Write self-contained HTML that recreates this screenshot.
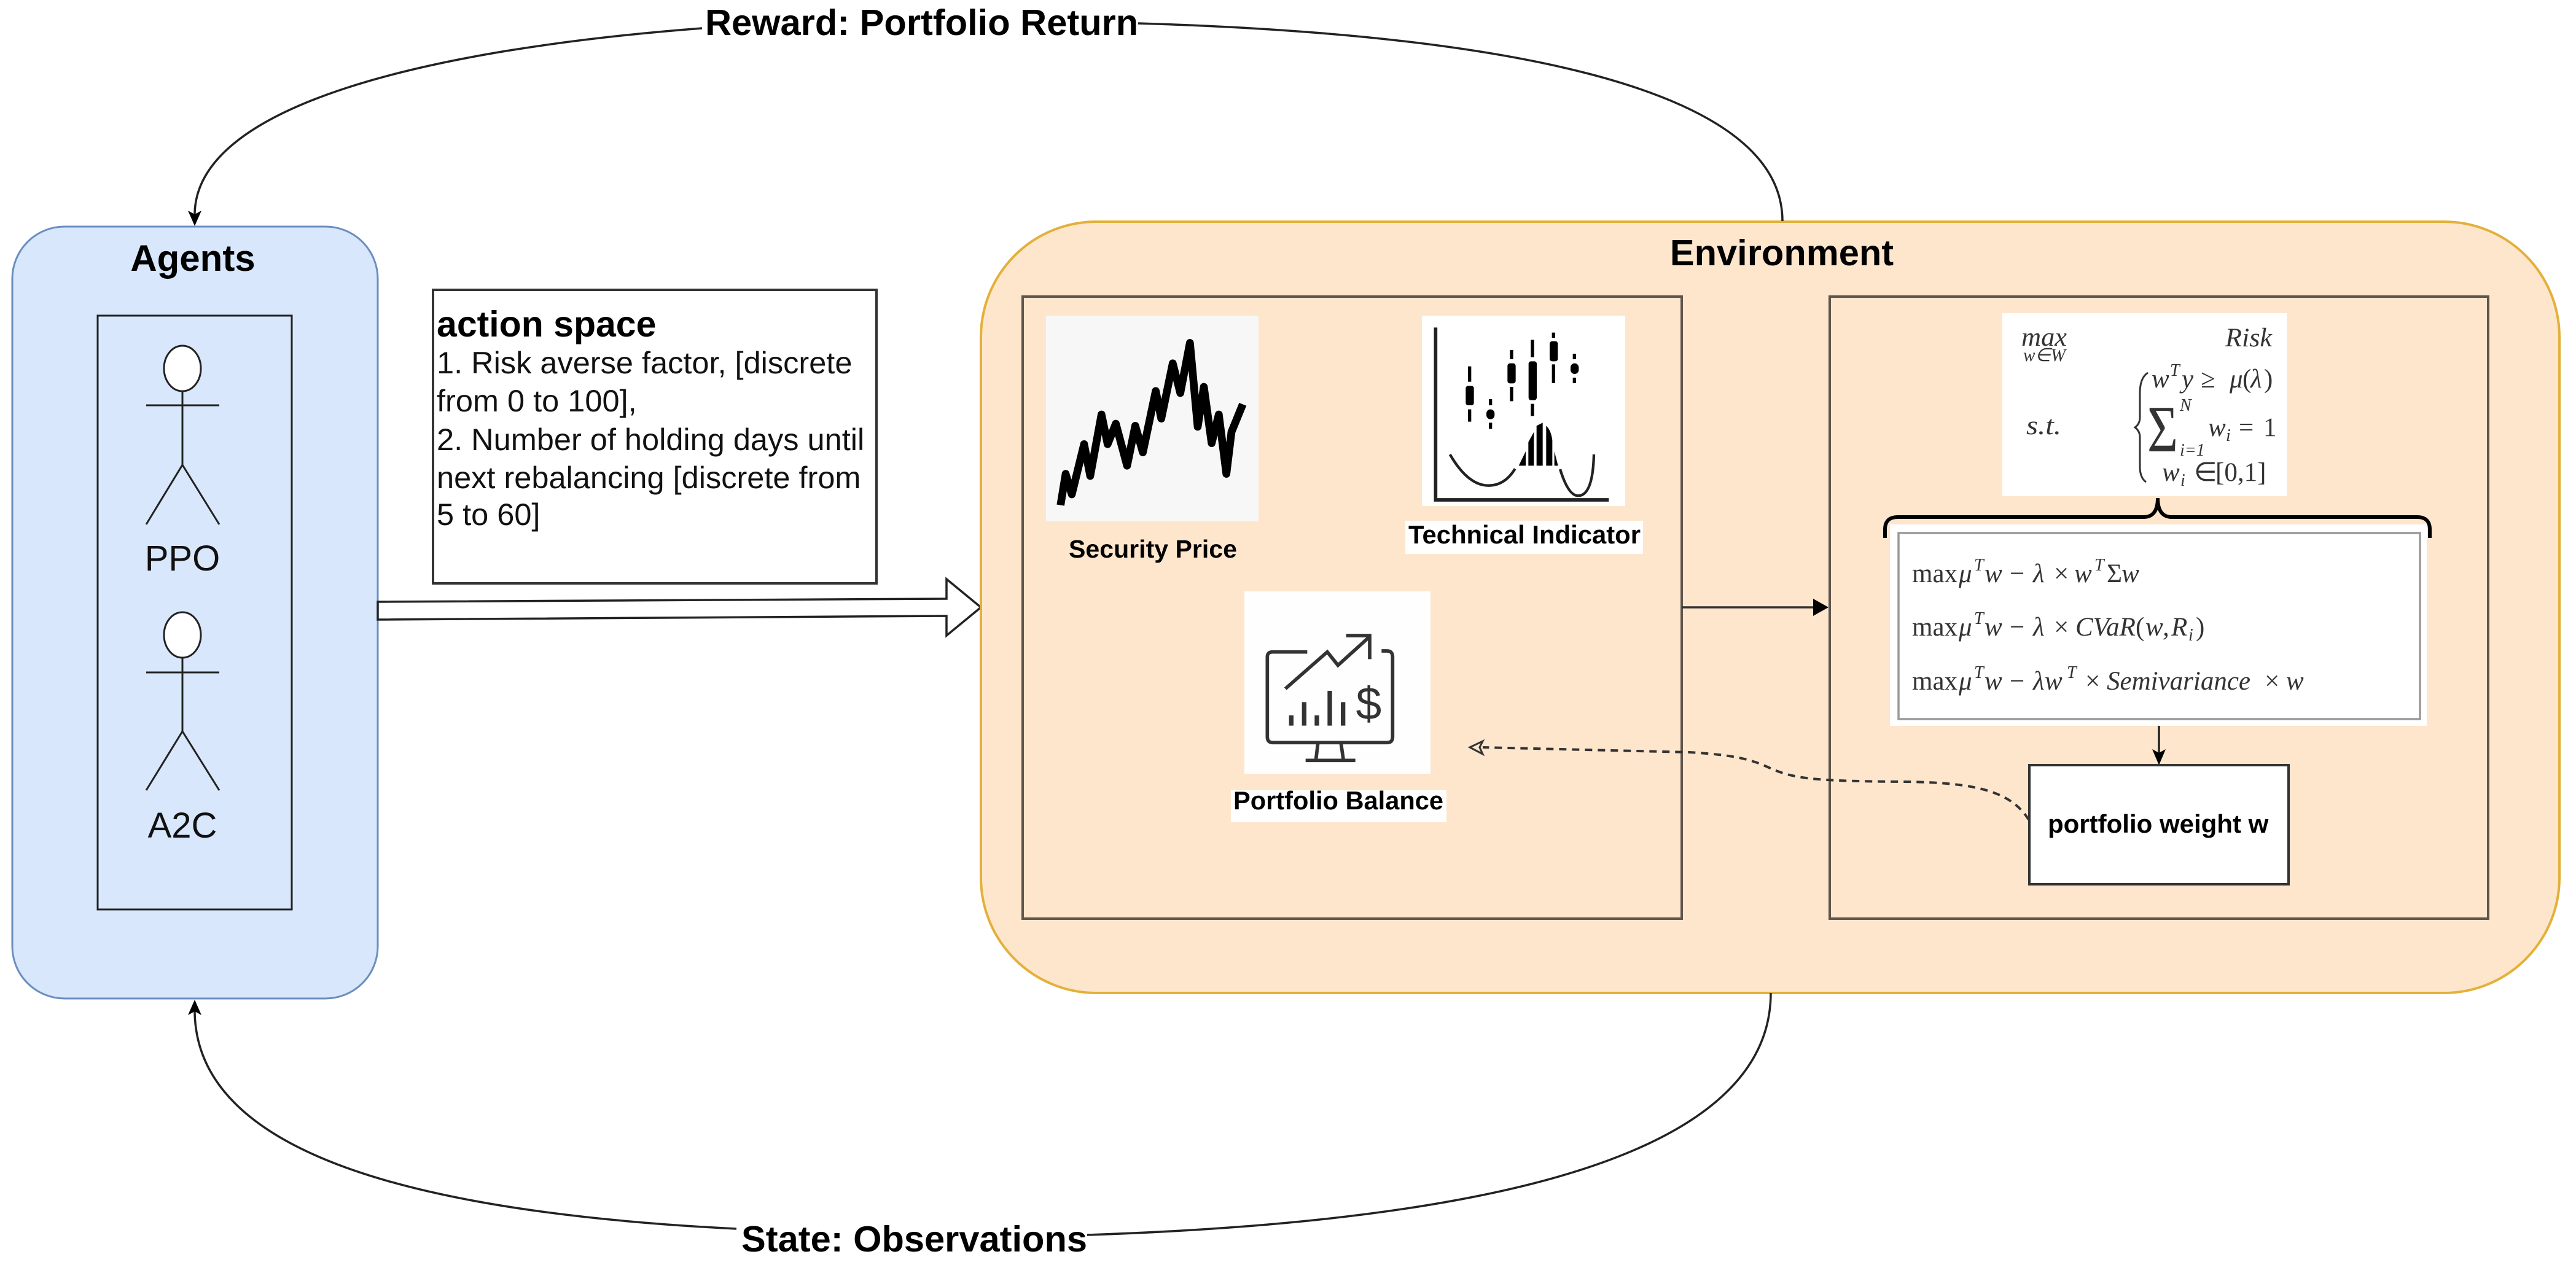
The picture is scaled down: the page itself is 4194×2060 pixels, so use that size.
<!DOCTYPE html>
<html><head><meta charset="utf-8"><style>
html,body{margin:0;padding:0;background:#fff;width:4194px;height:2060px;overflow:hidden}
svg{display:block}
.s{font-family:"Liberation Sans",sans-serif}
.b{font-family:"Liberation Sans",sans-serif;font-weight:bold;fill:#000}
.m{font-family:"Liberation Serif",serif;font-style:italic;fill:#333;font-size:43px}
.r{font-style:normal}
</style></head><body>
<svg width="4194" height="2060" viewBox="0 0 4194 2060" xmlns="http://www.w3.org/2000/svg">
<rect width="4194" height="2060" fill="#fff"/>

<!-- Agents -->
<rect x="20" y="369" width="595" height="1257" rx="85" ry="85" fill="#d8e7fb" stroke="#6c8ebf" stroke-width="3"/>
<text x="314" y="441" class="b" font-size="60" text-anchor="middle">Agents</text>
<rect x="159" y="514" width="316" height="967" fill="none" stroke="#222" stroke-width="3"/>
<g fill="none" stroke="#222" stroke-width="3">
<ellipse cx="297" cy="600" rx="30" ry="37" fill="#fff"/>
<path d="M238 660H357M297 637V757M238 854L297 757L357 854"/>
<ellipse cx="297" cy="1034" rx="30" ry="37" fill="#fff"/>
<path d="M238 1095H357M297 1071V1191M238 1287L297 1191L357 1287"/>
</g>
<text x="297" y="929" class="s" font-size="58" text-anchor="middle" fill="#111">PPO</text>
<text x="297" y="1364" class="s" font-size="58" text-anchor="middle" fill="#111">A2C</text>

<!-- Action box -->
<rect x="705" y="472" width="722" height="478" fill="#fff" stroke="#333" stroke-width="4"/>
<text x="711" y="548" class="b" font-size="59">action space</text>
<g class="s" font-size="50.5" fill="#111">
<text x="711" y="608">1. Risk averse factor, [discrete</text>
<text x="711" y="670">from 0 to 100],</text>
<text x="711" y="733">2. Number of holding days until</text>
<text x="711" y="795">next rebalancing [discrete from</text>
<text x="711" y="855">5 to 60]</text>
</g>

<!-- Block arrow -->
<polygon points="615,980 1541,975 1541,943 1597,989 1541,1035 1541,1003 615,1009" fill="#fff" stroke="#222" stroke-width="3.5"/>

<!-- Environment -->
<rect x="1597" y="361" width="2570" height="1256" rx="188" ry="188" fill="#fee6cd" stroke="#e3b03a" stroke-width="4"/>
<text x="2901" y="432" class="b" font-size="59.6" text-anchor="middle">Environment</text>
<rect x="1665" y="483" width="1073" height="1013" fill="none" stroke="#5f554c" stroke-width="4"/>
<rect x="2979" y="483" width="1072" height="1013" fill="none" stroke="#5f554c" stroke-width="4"/>

<!-- Security price -->
<rect x="1703" y="514" width="346" height="335" fill="#f7f7f7"/>
<g transform="translate(1650,480) scale(.33333)">
<polyline fill="none" stroke="#000" stroke-width="38" stroke-linejoin="round" points="230,1028 255,875 285,975 345,730 375,885 430,585 460,730 500,630 555,835 595,640 632,770 695,470 722,605 778,335 815,480 862,235 900,645 930,450 968,725 1003,585 1040,875 1065,670 1120,535"/>
</g>
<text x="1740" y="908" class="b" font-size="41" textLength="274" lengthAdjust="spacingAndGlyphs">Security Price</text>

<!-- Technical indicator -->
<rect x="2315" y="514" width="331" height="310" fill="#fff"/>
<g transform="translate(2280,490) scale(.33333)">
<path d="M172 130V972H1018" fill="none" stroke="#222" stroke-width="17"/>
<g fill="none" stroke="#000" stroke-width="16">
<path d="M338 320V395M338 530V590M440 480V510M440 595V625M543 240V285M543 420V490M645 190V275M645 503V562M748 155V180M748 310V402M850 258V285M850 375V402"/>
</g>
<g fill="#000">
<rect x="319" y="415" width="40" height="95" rx="12"/>
<rect x="420" y="530" width="40" height="48" rx="20"/>
<rect x="523" y="305" width="40" height="98" rx="12"/>
<rect x="626" y="295" width="40" height="190" rx="12"/>
<rect x="729" y="197" width="40" height="98" rx="12"/>
<rect x="831" y="305" width="40" height="52" rx="20"/>
<path d="M578 805L612 735V805ZM625 805V690L652 640V805ZM665 805V610L695 595V805ZM712 805V610Q735 630 742 680V805ZM752 735L770 805H752Z"/>
</g>
<path d="M242 750Q330 902 430 902Q510 902 560 820M780 822Q820 952 868 952Q940 952 945 750" fill="none" stroke="#222" stroke-width="13"/>
</g>
<rect x="2288" y="848" width="387" height="54" fill="#fff"/>
<text x="2293" y="885" class="b" font-size="41.5" textLength="378" lengthAdjust="spacingAndGlyphs">Technical Indicator</text>

<!-- Portfolio balance -->
<rect x="2026" y="963" width="303" height="297" fill="#fefefe"/>
<g transform="translate(1980,940) scale(.33333)" fill="none" stroke="#333" stroke-width="17">
<path d="M445 365H275Q250 365 250 390V780Q250 808 278 808H835Q862 808 862 780V390Q862 360 835 360H808"/>
<path d="M497 812L487 895M610 812L622 895M437 895H680"/>
<path d="M338 545L543 365L595 430L750 290M635 285H750V400"/>
<path stroke-width="22" d="M367 675V725M430 610V725M492 675V725M555 555V725M620 610V725"/>
<text x="745" y="695" font-family="Liberation Sans,sans-serif" font-size="225" text-anchor="middle" fill="#333" stroke="none">$</text>
</g>
<rect x="2004" y="1287" width="351" height="52" fill="#fff"/>
<text x="2008" y="1318" class="b" font-size="41.5" textLength="342" lengthAdjust="spacingAndGlyphs">Portfolio Balance</text>

<!-- Arrow between inner boxes -->
<path d="M2738 989H2958" stroke="#333" stroke-width="3.5" fill="none"/>
<polygon points="2977,989 2952,975 2952,1003" fill="#000"/>

<!-- Math top box -->
<rect x="3260" y="510" width="463" height="298" fill="#fff"/>
<g class="m">
<text x="3291" y="563" textLength="74" lengthAdjust="spacingAndGlyphs">max</text>
<text x="3294" y="588" font-size="30" textLength="69" lengthAdjust="spacingAndGlyphs">w∈W</text>
<text x="3623" y="564" textLength="76" lengthAdjust="spacingAndGlyphs">Risk</text>
<text x="3299" y="707" textLength="57" lengthAdjust="spacingAndGlyphs">s.t.</text>
<text y="631"><tspan x="3503">w</tspan><tspan x="3533" y="612" font-size="28">T</tspan><tspan x="3552" y="631">y</tspan><tspan x="3583" class="r">≥</tspan><tspan x="3630">μ</tspan><tspan x="3651" class="r">(</tspan><tspan x="3664">λ</tspan><tspan x="3686" class="r">)</tspan></text>
<text x="3496" y="735" font-size="108" class="r" textLength="50" lengthAdjust="spacingAndGlyphs">Σ</text>
<text x="3549" y="669" font-size="28">N</text>
<text x="3549" y="742" font-size="28">i=1</text>
<text y="710"><tspan x="3595">w</tspan><tspan x="3624" y="718" font-size="28">i</tspan><tspan x="3645" y="710" class="r">=</tspan><tspan x="3685" class="r">1</tspan></text>
<text y="783"><tspan x="3520">w</tspan><tspan x="3550" y="791" font-size="28">i</tspan><tspan x="3572" y="783" class="r">∈</tspan><tspan x="3607" class="r">[0,1]</tspan></text>
</g>
<path d="M3497 607Q3484 615 3484 640V680Q3484 690 3476 696Q3484 702 3484 712V760Q3484 778 3494 785" fill="none" stroke="#333" stroke-width="3"/>

<!-- Curly brace -->
<path d="M3069 876V862Q3069 842 3090 842H3490Q3513 842 3513 811Q3513 842 3536 842H3935Q3956 842 3956 862V876" fill="none" stroke="#000" stroke-width="6"/>

<!-- Formula box -->
<rect x="3077" y="854" width="874" height="328" fill="#fff"/>
<rect x="3091" y="868" width="849" height="303" fill="#fff" stroke="#999" stroke-width="3.5"/>
<g class="m">
<text y="948"><tspan x="3113" class="r">max</tspan><tspan x="3189">μ</tspan><tspan x="3214" y="929" font-size="28">T</tspan><tspan x="3231" y="948">w</tspan><tspan x="3272" class="r">−</tspan><tspan x="3310">λ</tspan><tspan x="3344" class="r">×</tspan><tspan x="3377">w</tspan><tspan x="3410" y="929" font-size="28">T</tspan><tspan x="3430" y="948" class="r">Σ</tspan><tspan x="3454">w</tspan></text>
<text y="1035"><tspan x="3113" class="r">max</tspan><tspan x="3189">μ</tspan><tspan x="3214" y="1016" font-size="28">T</tspan><tspan x="3231" y="1035">w</tspan><tspan x="3272" class="r">−</tspan><tspan x="3310">λ</tspan><tspan x="3344" class="r">×</tspan><tspan x="3379">CVaR</tspan><tspan x="3477" class="r">(</tspan><tspan x="3493">w</tspan><tspan x="3521">,</tspan><tspan x="3535">R</tspan><tspan x="3563" y="1043" font-size="28">i</tspan><tspan x="3575" y="1035" class="r">)</tspan></text>
<text y="1123"><tspan x="3113" class="r">max</tspan><tspan x="3189">μ</tspan><tspan x="3214" y="1104" font-size="28">T</tspan><tspan x="3231" y="1123">w</tspan><tspan x="3272" class="r">−</tspan><tspan x="3310">λ</tspan><tspan x="3329">w</tspan><tspan x="3365" y="1104" font-size="28">T</tspan><tspan x="3395" y="1123" class="r">×</tspan><tspan x="3430">Semivariance</tspan><tspan x="3687" class="r">×</tspan><tspan x="3722">w</tspan></text>
</g>

<!-- Down arrow -->
<path d="M3515 1182V1228" stroke="#222" stroke-width="3.5" fill="none"/>
<polygon points="3515,1246 3504,1220 3515,1226 3526,1220" fill="#000"/>

<!-- Portfolio weight -->
<rect x="3304" y="1246" width="422" height="194" fill="#fff" stroke="#333" stroke-width="4"/>
<text x="3334" y="1356" class="b" font-size="42">portfolio weight w</text>

<!-- Dashed curve -->
<path d="M3303 1335C3275 1290 3220 1274 3100 1273C2950 1272 2920 1268 2880 1250C2850 1236 2820 1229 2750 1225L2414 1217" fill="none" stroke="#333" stroke-width="4" stroke-dasharray="12 9"/>
<path d="M2393 1217L2414 1207L2409 1217L2414 1228Z" fill="#fee6cd" stroke="#333" stroke-width="3"/>

<!-- Reward loop -->
<path d="M1143 46C700 80 317 170 317 350" fill="none" stroke="#222" stroke-width="3.5"/>
<path d="M1853 38C2420 55 2902 135 2902 360" fill="none" stroke="#222" stroke-width="3.5"/>
<polygon points="317,368 306,343 317,349 328,343" fill="#000"/>
<text x="1148" y="57" class="b" font-size="59.6">Reward: Portfolio Return</text>

<!-- State loop -->
<path d="M1199 2001C680 1975 317 1880 317 1645" fill="none" stroke="#222" stroke-width="3.5"/>
<path d="M1770 2011C2400 1990 2883 1890 2883 1617" fill="none" stroke="#222" stroke-width="3.5"/>
<polygon points="317,1628 306,1653 317,1647 328,1653" fill="#000"/>
<text x="1207" y="2038" class="b" font-size="59.6">State: Observations</text>
</svg>
</body></html>
